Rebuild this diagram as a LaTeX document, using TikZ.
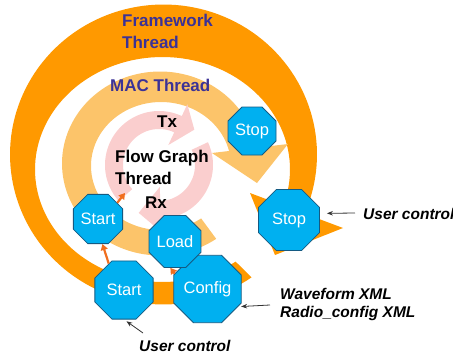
\documentclass[tikz,border=0pt]{standalone}
\usepackage{fontspec}
\setmainfont{Liberation Sans}
\usetikzlibrary{shapes.geometric,arrows.meta,calc}
\definecolor{darkor}{RGB}{255,153,0}
\definecolor{lightor}{RGB}{252,196,106}
\definecolor{pinkc}{RGB}{250,206,206}
\definecolor{octblue}{RGB}{0,176,240}
\definecolor{octedge}{RGB}{20,90,130}
\definecolor{titleblue}{RGB}{60,50,150}
\definecolor{arrowor}{RGB}{240,110,30}
\begin{document}
\begin{tikzpicture}[x=1pt,y=-1pt,
  oct/.style={regular polygon, regular polygon sides=8, fill=octblue, draw=octedge, line width=0.8pt, inner sep=0pt, text=white, font={\fontsize{16.5}{18}\selectfont}},
  bigoct/.style={oct, minimum size=63pt},
  smalloct/.style={oct, minimum size=44pt},
  threadlbl/.style={font={\fontsize{17}{22}\selectfont\bfseries}, text=titleblue, inner sep=0pt},
  fglbl/.style={font={\fontsize{17}{22}\selectfont\bfseries}, text=black, inner sep=0pt},
  notelbl/.style={font={\fontsize{15.5}{18.5}\selectfont\bfseries\itshape}, text=black, inner sep=0pt},
  oarrow/.style={draw=arrowor, line width=2.2pt, -{Triangle[length=6pt,width=7pt]}},
  uarrow/.style={draw=black!80, line width=0.8pt, -{Stealth[length=6pt,width=4.5pt]}}
]
\useasboundingbox (0,0) rectangle (453,356);
% Framework thread ring
\fill[darkor] plot[domain=55:383, samples=140, variable=\t] ({163.5+153.5*cos(\t)}, {154.5+150*sin(\t)})
  -- plot[domain=383:55, samples=140, variable=\t] ({162.5+127.5*cos(\t)}, {169.5+112.5*sin(\t)}) -- cycle;
\fill[darkor] (250,193) -- (343,228) -- (275,255) -- cycle;
% MAC thread ring
\fill[lightor] plot[domain=55:351, samples=120, variable=\t] ({160+98*cos(\t)}, {163.5+92*sin(\t)})
  -- plot[domain=351:55, samples=120, variable=\t] ({161+70*cos(\t)}, {166+64*sin(\t)}) -- cycle;
\fill[lightor] (212,153) -- (288,144) -- (257,183) -- cycle;
% Flow graph thread arrows
\fill[pinkc] plot[domain=138:295, samples=60, variable=\t] ({159+54*cos(\t)}, {165+54*sin(\t)})
  -- ({159+67*cos(295)}, {165+67*sin(295)}) -- ({159+50*cos(315)}, {165+50*sin(315)})
  -- ({159+22*cos(295)}, {165+22*sin(295)})
  -- plot[domain=295:138, samples=60, variable=\t] ({159+36*cos(\t)}, {165+36*sin(\t)}) -- cycle;
\fill[pinkc] plot[domain=335:448, samples=60, variable=\t] ({159+54*cos(\t)}, {165+54*sin(\t)})
  -- ({159+67*cos(448)}, {165+67*sin(448)}) -- ({159+52*cos(473)}, {165+52*sin(473)})
  -- ({159+22*cos(448)}, {165+22*sin(448)})
  -- plot[domain=448:335, samples=60, variable=\t] ({159+36*cos(\t)}, {165+36*sin(\t)}) -- cycle;
% labels
\node[threadlbl, anchor=north west, align=left] (fw) at (122,14) {Framework\\Thread};
\node[threadlbl, anchor=base west] (mac) at (110,91) {MAC Thread};
\node[fglbl, anchor=base west] (tx) at (157,127) {Tx};
\node[fglbl, anchor=north west, align=left] (fg) at (115,150) {Flow Graph\\Thread};
\node[fglbl, anchor=base west] (rx) at (145,208) {Rx};
% octagons
\node[bigoct] (startbig) at (124,290) {Start};
\node[bigoct] (config) at (207.5,289) {Config};
\node[smalloct] (startsmall) at (98,219) {Start};
\node[smalloct] (load) at (175,241.5) {Load};
\node[smalloct] (stopsmall) at (252,131) {Stop};
\node[oct, minimum size=66pt] (stopbig) at (289,220) {Stop};
% orange arrows
\coordinate (fgin) at (125,193);
\draw[oarrow] (startbig.120) -- (startsmall.280);
\draw[oarrow] (config.155) -- (load.260);
\draw[oarrow] (startsmall.40) -- (fgin);
% notes
\node[notelbl, anchor=base west] (uc1) at (363,219) {User control};
\node[notelbl, anchor=north west, align=left] (wf) at (280,288) {Waveform XML\\Radio\_config XML};
\node[notelbl, anchor=base west] (uc2) at (139,351) {User control};
\coordinate (uc1tail) at (355,213);
\coordinate (wftail) at (270,305);
\coordinate (uc2tail) at (143,333);
\draw[uarrow, shorten >=7pt] (uc1tail) -- (stopbig.12);
\draw[uarrow, shorten >=3pt] (wftail) -- (config.-30);
\draw[uarrow, shorten >=3pt] (uc2tail) -- (startbig.south);
\end{tikzpicture}
\end{document}
